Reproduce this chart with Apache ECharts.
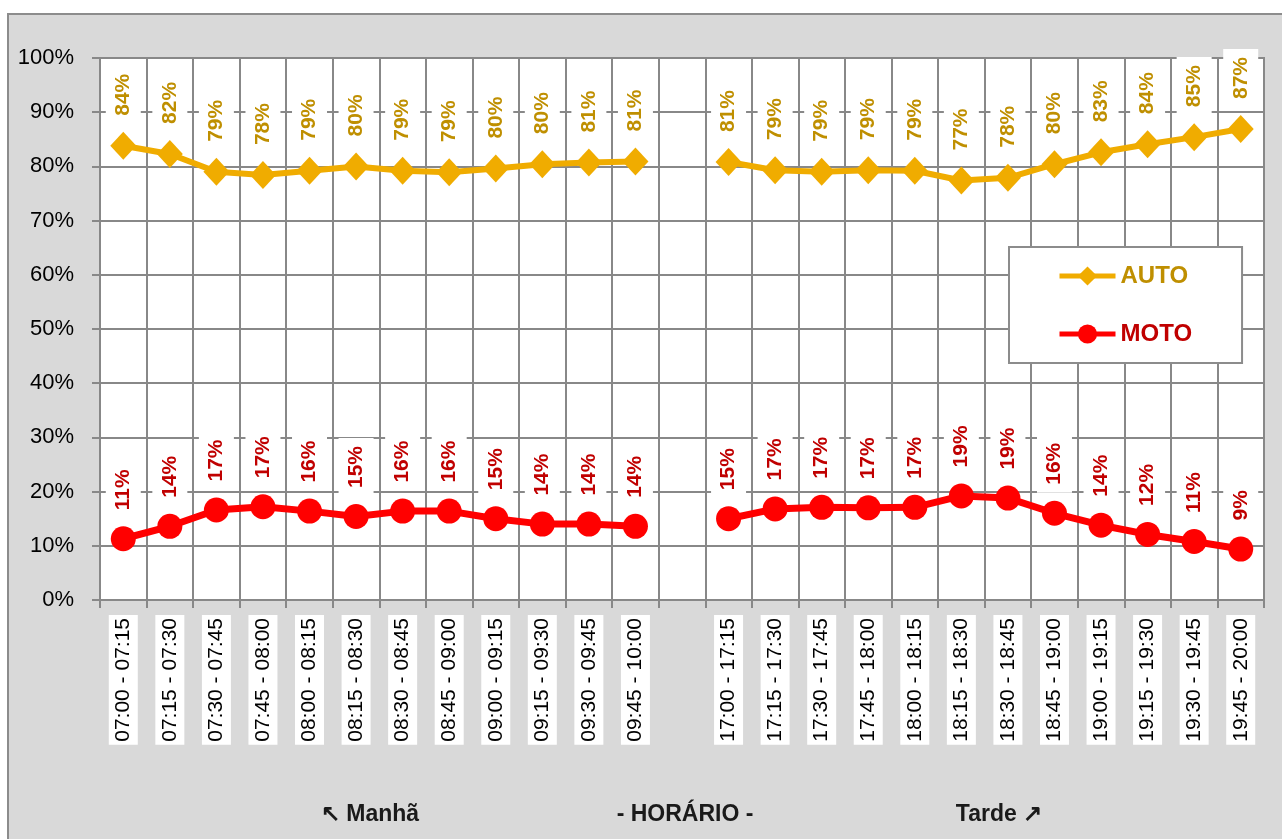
<!DOCTYPE html>
<html>
<head>
<meta charset="utf-8">
<title>AUTO / MOTO por horário</title>
<script src="https://cdn.jsdelivr.net/npm/echarts@6/dist/echarts.min.js"></script>
<style>
  html, body { margin: 0; padding: 0; background: #ffffff; overflow: hidden; }
  #frame {
    position: absolute; left: 7px; top: 13px; width: 1400px; height: 900px;
    background: #d9d9d9; border: 2px solid #8c8c8c;
  }
  #chart { position: absolute; left: 0; top: 0; width: 1282px; height: 839px; }
</style>
</head>
<body>
<div id="frame"></div>
<div id="chart"></div>
<script>
// Time slots: morning peak, an empty spacer slot, evening peak
const morningSlots = ['07:00 - 07:15', '07:15 - 07:30', '07:30 - 07:45', '07:45 - 08:00',
  '08:00 - 08:15', '08:15 - 08:30', '08:30 - 08:45', '08:45 - 09:00',
  '09:00 - 09:15', '09:15 - 09:30', '09:30 - 09:45', '09:45 - 10:00'];
const eveningSlots = ['17:00 - 17:15', '17:15 - 17:30', '17:30 - 17:45', '17:45 - 18:00',
  '18:00 - 18:15', '18:15 - 18:30', '18:30 - 18:45', '18:45 - 19:00',
  '19:00 - 19:15', '19:15 - 19:30', '19:30 - 19:45', '19:45 - 20:00'];

// Share of traffic (%) per slot
const autoMorning = [83.8, 82.3, 79.0, 78.4, 79.2, 80.0, 79.2, 78.9, 79.6, 80.4, 80.7, 80.9];
const autoEvening = [80.8, 79.3, 79.0, 79.3, 79.2, 77.4, 77.9, 80.4, 82.6, 84.1, 85.4, 86.9];
const motoMorning = [11.3, 13.6, 16.6, 17.2, 16.4, 15.4, 16.4, 16.4, 15.0, 14.0, 14.0, 13.6];
const motoEvening = [15.0, 16.8, 17.1, 17.0, 17.1, 19.2, 18.8, 16.0, 13.8, 12.1, 10.8, 9.4];

const yTicks = { min: 0, max: 100, step: 10 };
const footerTexts = ['\u2196 Manhã', '- HORÁRIO -', 'Tarde \u2197'];

const categories = morningSlots.concat([''], eveningSlots);
const autoData = autoMorning.concat([null], autoEvening);
const motoData = motoMorning.concat([null], motoEvening);

const FONT = '"Liberation Sans", Arial, sans-serif';
const GRID_COLOR = '#888888';

function pointLabel(color) {
  return {
    show: true,
    position: 'top',
    distance: 8,
    rotate: 90,
    align: 'left',
    verticalAlign: 'middle',
    color: color,
    fontFamily: FONT,
    fontWeight: 'bold',
    fontSize: 21,
    backgroundColor: '#ffffff',
    padding: [7, 8, 7, 8],
    formatter: p => Math.round(p.value) + '%'
  };
}

const chart = echarts.init(document.getElementById('chart'), null, { renderer: 'canvas' });

chart.setOption({
  animation: false,
  backgroundColor: 'transparent',
  grid: {
    left: 100, right: 18, top: 58, bottom: 239,
    show: true, backgroundColor: '#ffffff',
    borderColor: GRID_COLOR, borderWidth: 2
  },
  legend: {
    left: 1009, top: 247,
    orient: 'vertical',
    backgroundColor: '#ffffff',
    borderColor: '#8c8c8c', borderWidth: 2,
    padding: [16, 50, 16, 48],
    itemGap: 32,
    itemWidth: 56, itemHeight: 24,
    selectedMode: false,
    lineStyle: { width: 5 },
    data: [
      { name: 'AUTO', textStyle: { color: '#bf8f00' } },
      { name: 'MOTO', textStyle: { color: '#c00000' } }
    ],
    textStyle: { fontFamily: FONT, fontWeight: 'bold', fontSize: 24, lineHeight: 26 }
  },
  xAxis: {
    type: 'category',
    data: categories,
    boundaryGap: true,
    axisLine: { show: true, lineStyle: { color: GRID_COLOR, width: 2 } },
    axisTick: { show: true, length: 8, alignWithLabel: false, lineStyle: { color: GRID_COLOR, width: 2 } },
    splitLine: { show: true, lineStyle: { color: GRID_COLOR, width: 2 } },
    axisLabel: {
      interval: 0,
      rotate: 90,
      margin: 15,
      formatter: v => (v ? '{box|' + v + '}' : ''),
      rich: {
        box: {
          color: '#000000',
          fontFamily: FONT,
          fontSize: 21,
          backgroundColor: '#ffffff',
          padding: [4, 3, 4, 3]
        }
      }
    }
  },
  yAxis: {
    type: 'value',
    min: yTicks.min, max: yTicks.max, interval: yTicks.step,
    axisLine: { show: true, lineStyle: { color: GRID_COLOR, width: 2 } },
    axisTick: { show: true, length: 8, lineStyle: { color: GRID_COLOR, width: 2 } },
    splitLine: { show: true, lineStyle: { color: GRID_COLOR, width: 2 } },
    axisLabel: {
      margin: 26,
      color: '#000000',
      fontFamily: FONT,
      fontSize: 22,
      formatter: '{value}%'
    }
  },
  series: [
    {
      name: 'AUTO',
      type: 'line',
      data: autoData,
      connectNulls: false,
      color: '#f0ac00',
      lineStyle: { width: 6, color: '#f0ac00' },
      symbol: 'diamond',
      symbolSize: [26, 28],
      itemStyle: { color: '#f0ac00' },
      label: pointLabel('#bf8f00')
    },
    {
      name: 'MOTO',
      type: 'line',
      data: motoData,
      connectNulls: false,
      color: '#ff0000',
      lineStyle: { width: 7, color: '#ff0000' },
      symbol: 'circle',
      symbolSize: 25,
      itemStyle: { color: '#ff0000' },
      label: pointLabel('#c00000')
    }
  ],
  graphic: footerTexts.map((t, i) => ({
    type: 'text',
    x: [370, 685, 999][i],
    y: 815,
    style: {
      text: t,
      font: 'bold 23px ' + FONT,
      fill: '#1a1a1a',
      textAlign: 'center',
      textVerticalAlign: 'middle'
    }
  }))
});
</script>
</body>
</html>
